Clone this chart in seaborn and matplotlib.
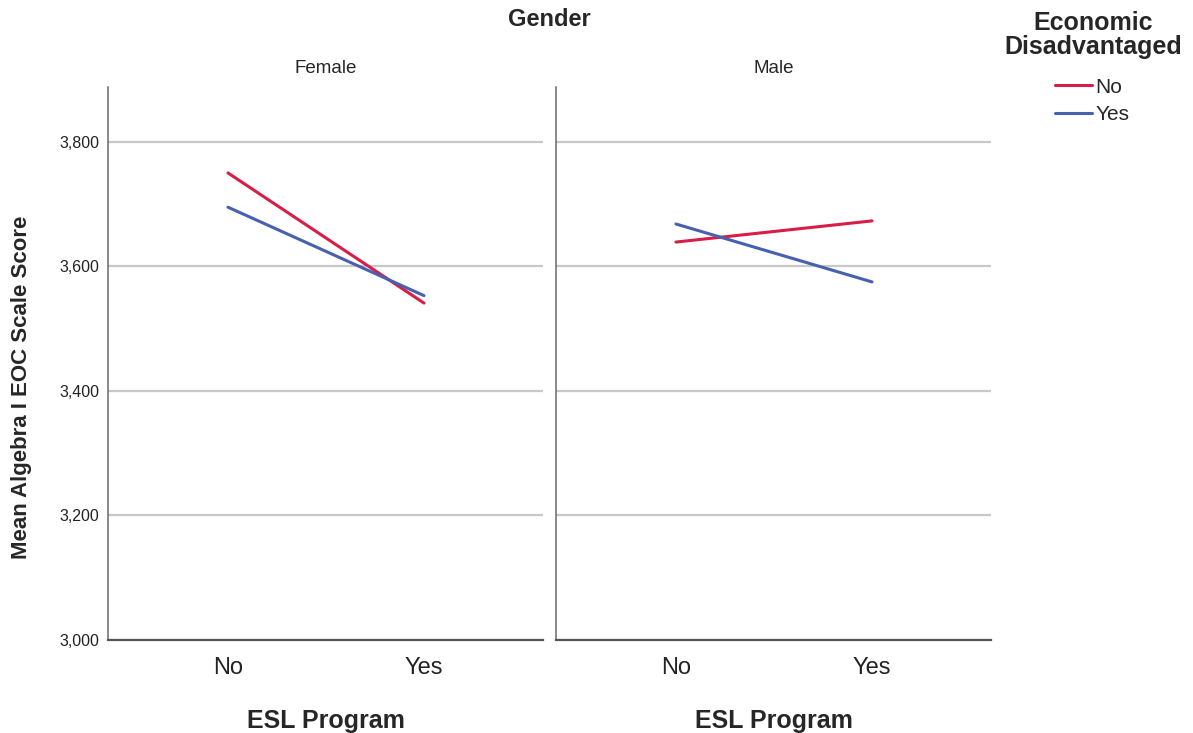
import matplotlib
matplotlib.use("Agg")
import matplotlib.pyplot as plt
import seaborn as sns
import pandas as pd
from matplotlib.lines import Line2D

# ---- data ----
genders = ["Female", "Male"]
esl_levels = ["No", "Yes"]
econ_levels = ["No", "Yes"]
female_econ_no = [3750, 3541]
female_econ_yes = [3695, 3553]
male_econ_no = [3639, 3673]
male_econ_yes = [3668, 3575]
y_ticks = [3000, 3200, 3400, 3600, 3800]

rows = []
for g, series in zip(genders, [(female_econ_no, female_econ_yes), (male_econ_no, male_econ_yes)]):
    for econ, vals in zip(econ_levels, series):
        for i, (esl, v) in enumerate(zip(esl_levels, vals)):
            rows.append({"Gender": g, "ESL": esl, "ESLpos": i, "Econ": econ, "Score": v})
df = pd.DataFrame(rows)

sns.set_style("white")
plt.rcParams["font.family"] = ["Liberation Sans", "DejaVu Sans"]

palette = {"No": "#D81E46", "Yes": "#4760B0"}

W, H = 1193, 733
fig = plt.figure(figsize=(W / 100, H / 100), dpi=100)

def ax_rect(x0, y0, x1, y1):
    return [x0 / W, 1 - y1 / H, (x1 - x0) / W, (y1 - y0) / H]

axes = [fig.add_axes(ax_rect(108, 87, 543, 640)), fig.add_axes(ax_rect(556, 87, 991, 640))]

for k, (ax, g) in enumerate(zip(axes, genders)):
    sub = df[df["Gender"] == g]
    sns.lineplot(data=sub, x="ESLpos", y="Score", hue="Econ", hue_order=econ_levels,
                 palette=palette, linewidth=2.2, ax=ax, legend=False, zorder=3)
    ax.set_xlim(-0.612, 1.607)
    ax.set_ylim(3000, 3888)
    ax.set_yticks(y_ticks)
    ax.yaxis.grid(True, color="#c8c8c8", linewidth=1.6)
    ax.set_axisbelow(True)
    for s in ["top", "right"]:
        ax.spines[s].set_visible(False)
    ax.spines["left"].set_color("#6b6b6b")
    ax.spines["left"].set_linewidth(1.1)
    ax.spines["bottom"].set_color("#555555")
    ax.spines["bottom"].set_linewidth(1.6)
    ax.set_xticks([0, 1])
    ax.set_xticklabels(esl_levels, fontsize=17, color="#222222")
    ax.tick_params(axis="both", length=0, pad=12)
    if k == 0:
        ax.set_yticklabels([f"{v:,}" for v in y_ticks], fontsize=11.5, color="#222222")
        ax.tick_params(axis="y", pad=6)
    else:
        ax.set_yticklabels([])
    ax.set_xlabel("ESL Program", fontsize=18, fontweight="bold", labelpad=22)
    ax.set_ylabel("")
    ax.set_title(g, fontsize=13.5, pad=10)

fig.text(22 / W, 1 - 387 / H, "Mean Algebra I EOC Scale Score", rotation=90,
         fontsize=16, fontweight="bold", ha="center", va="center")
fig.text(549 / W, 1 - 20 / H, "Gender", fontsize=17, fontweight="bold",
         ha="center", va="center")
fig.text(1093 / W, 1 - 35 / H, "Economic\nDisadvantaged", fontsize=18, fontweight="bold",
         ha="center", va="center", multialignment="center", linespacing=1.0)

handles = [Line2D([], [], color=palette[e], linewidth=2.2) for e in econ_levels]
leg = fig.legend(handles, econ_levels, loc="upper left",
                 bbox_to_anchor=(1038 / W, 1 - 61 / H), frameon=False, fontsize=15,
                 handlelength=1.8, handletextpad=0.15, labelspacing=0.42,
                 borderpad=0.3)

fig.savefig("out.png", dpi=100)
